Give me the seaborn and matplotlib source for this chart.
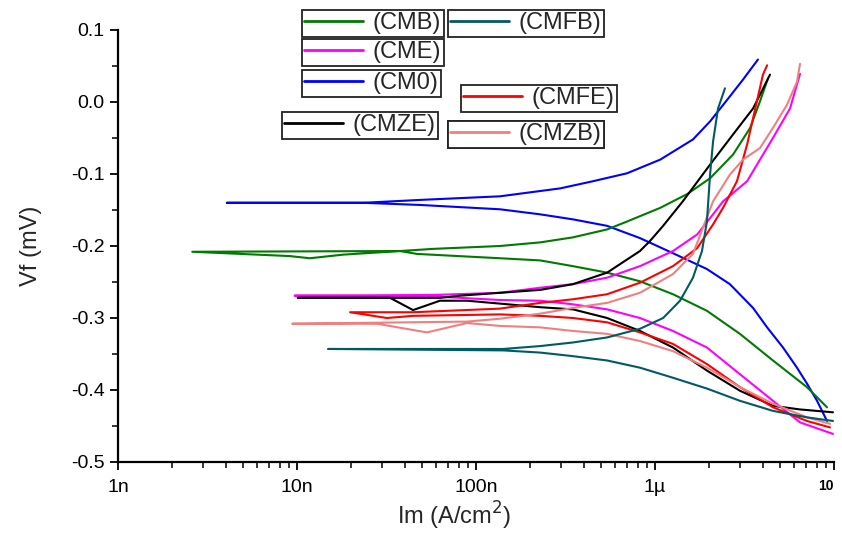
import numpy as np
import pandas as pd
import seaborn as sns
import matplotlib.pyplot as plt
from matplotlib.ticker import FixedLocator, LogLocator, MultipleLocator, NullFormatter

# Tafel curves: current (A/cm2) and potential
# each sample has a cathodic (lower) and an anodic (upper) branch, both from low current up
cm0_cat_i = [4.06e-9, 2.34e-8, 4.87e-8, 1.36e-7, 2.28e-7, 3.48e-7, 5.40e-7, 8.24e-7, 1.26e-6, 1.95e-6,
             2.62e-6, 3.53e-6, 4.23e-6, 5.19e-6, 6.21e-6, 7.06e-6, 8.04e-6, 9.14e-6]
cm0_cat_v = [-0.140, -0.140, -0.143, -0.149, -0.156, -0.163, -0.172, -0.189, -0.210, -0.232,
             -0.253, -0.286, -0.313, -0.341, -0.369, -0.391, -0.415, -0.443]
cm0_an_i = [4.06e-9, 2.34e-8, 4.87e-8, 1.36e-7, 2.95e-7, 4.51e-7, 6.98e-7, 1.07e-6, 1.63e-6, 2.03e-6,
            2.53e-6, 3.10e-6, 3.76e-6]
cm0_an_v = [-0.140, -0.140, -0.136, -0.131, -0.120, -0.110, -0.099, -0.080, -0.052, -0.027,
            0.003, 0.031, 0.059]

cmb_cat_i = [2.6e-9, 9.1e-9, 1.18e-8, 1.81e-8, 3.76e-8, 4.68e-8, 1.36e-7, 2.28e-7, 3.48e-7, 5.40e-7,
             8.24e-7, 1.26e-6, 1.95e-6, 2.98e-6, 4.56e-6, 7.06e-6, 9.14e-6]
cmb_cat_v = [-0.208, -0.214, -0.217, -0.212, -0.207, -0.211, -0.217, -0.220, -0.228, -0.237,
             -0.249, -0.267, -0.290, -0.322, -0.359, -0.396, -0.424]
cmb_an_i = [2.6e-9, 3.76e-8, 5.75e-8, 1.36e-7, 2.28e-7, 3.48e-7, 5.40e-7, 6.98e-7, 1.07e-6, 1.51e-6,
            2.03e-6, 2.73e-6, 3.40e-6, 3.86e-6, 4.28e-6]
cmb_an_v = [-0.208, -0.207, -0.204, -0.200, -0.195, -0.188, -0.177, -0.166, -0.147, -0.128,
            -0.106, -0.073, -0.036, 0.001, 0.033]

cme_cat_i = [9.7e-9, 5.75e-8, 1.36e-7, 2.28e-7, 3.48e-7, 5.40e-7, 8.24e-7, 1.26e-6, 1.95e-6, 2.98e-6,
             4.56e-6, 6.46e-6, 9.87e-6]
cme_cat_v = [-0.269, -0.270, -0.275, -0.276, -0.281, -0.288, -0.300, -0.318, -0.341, -0.378,
             -0.415, -0.445, -0.461]
cme_an_i = [9.7e-9, 5.75e-8, 1.36e-7, 2.28e-7, 3.48e-7, 5.40e-7, 8.24e-7, 1.26e-6, 1.72e-6, 2.11e-6,
            2.40e-6, 3.27e-6, 4.56e-6, 5.68e-6, 6.46e-6]
cme_an_v = [-0.269, -0.268, -0.265, -0.258, -0.253, -0.244, -0.228, -0.207, -0.184, -0.156,
            -0.138, -0.110, -0.050, -0.009, 0.039]

cmze_cat_i = [1.01e-8, 3.31e-8, 4.45e-8, 6.29e-8, 8.91e-8, 1.36e-7, 2.28e-7, 3.48e-7, 5.40e-7, 8.24e-7,
              1.26e-6, 1.95e-6, 2.98e-6, 4.56e-6, 6.46e-6, 9.87e-6]
cmze_cat_v = [-0.272, -0.272, -0.289, -0.276, -0.276, -0.280, -0.285, -0.288, -0.300, -0.318,
              -0.341, -0.373, -0.401, -0.422, -0.427, -0.431]
cmze_an_i = [1.01e-8, 6.29e-8, 8.15e-8, 1.36e-7, 2.28e-7, 3.48e-7, 5.40e-7, 8.24e-7, 9.38e-7, 1.11e-6,
             1.43e-6, 2.03e-6, 2.73e-6, 3.53e-6, 4.39e-6]
cmze_an_v = [-0.272, -0.272, -0.269, -0.265, -0.261, -0.253, -0.237, -0.207, -0.193, -0.172,
             -0.138, -0.087, -0.045, -0.009, 0.038]

cmfe_cat_i = [1.98e-8, 3.18e-8, 4.45e-8, 1.36e-7, 2.28e-7, 3.48e-7, 5.40e-7, 8.24e-7, 1.26e-6, 1.95e-6,
              2.98e-6, 4.56e-6, 7.06e-6, 9.50e-6]
cmfe_cat_v = [-0.292, -0.300, -0.297, -0.295, -0.297, -0.300, -0.306, -0.320, -0.336, -0.364,
              -0.396, -0.424, -0.443, -0.452]
cmfe_an_i = [1.98e-8, 4.45e-8, 1.36e-7, 2.28e-7, 3.48e-7, 5.40e-7, 8.24e-7, 1.26e-6, 1.72e-6, 2.11e-6,
             2.40e-6, 2.87e-6, 3.27e-6, 3.71e-6, 4.01e-6, 4.23e-6]
cmfe_an_v = [-0.292, -0.292, -0.287, -0.279, -0.274, -0.267, -0.251, -0.228, -0.203, -0.170,
             -0.147, -0.110, -0.059, 0.001, 0.038, 0.051]

cmzb_cat_i = [9.4e-9, 2.8e-8, 5.32e-8, 8.91e-8, 1.36e-7, 2.28e-7, 3.48e-7, 5.40e-7, 8.24e-7, 1.26e-6,
              1.95e-6, 2.98e-6, 4.56e-6, 7.06e-6, 9.50e-6]
cmzb_cat_v = [-0.308, -0.308, -0.320, -0.307, -0.311, -0.313, -0.318, -0.322, -0.332, -0.346,
              -0.369, -0.396, -0.419, -0.438, -0.447]
cmzb_an_i = [9.4e-9, 8.91e-8, 1.36e-7, 2.28e-7, 3.48e-7, 5.40e-7, 8.24e-7, 1.26e-6, 1.63e-6, 1.85e-6,
             2.11e-6, 2.62e-6, 3.10e-6, 3.86e-6, 4.56e-6, 5.46e-6, 6.21e-6, 6.46e-6]
cmzb_an_v = [-0.308, -0.305, -0.301, -0.294, -0.286, -0.279, -0.265, -0.239, -0.211, -0.175,
             -0.138, -0.101, -0.080, -0.064, -0.036, -0.004, 0.028, 0.053]

cmfb_cat_i = [1.49e-8, 1.42e-7, 2.28e-7, 3.48e-7, 5.40e-7, 8.24e-7, 1.26e-6, 1.95e-6, 2.98e-6, 4.56e-6,
              7.06e-6, 9.87e-6]
cmfb_cat_v = [-0.343, -0.345, -0.348, -0.353, -0.359, -0.369, -0.383, -0.398, -0.415, -0.429,
              -0.438, -0.443]
cmfb_an_i = [1.49e-8, 1.42e-7, 2.28e-7, 3.48e-7, 5.40e-7, 8.24e-7, 1.11e-6, 1.38e-6, 1.63e-6, 1.83e-6,
             1.95e-6, 2.03e-6, 2.11e-6, 2.25e-6, 2.46e-6]
cmfb_an_v = [-0.343, -0.343, -0.339, -0.334, -0.327, -0.315, -0.300, -0.276, -0.244, -0.207,
             -0.166, -0.101, -0.055, -0.009, 0.019]

curves = {
    "(CM0)": (cm0_cat_i, cm0_cat_v, cm0_an_i, cm0_an_v),
    "(CMB)": (cmb_cat_i, cmb_cat_v, cmb_an_i, cmb_an_v),
    "(CME)": (cme_cat_i, cme_cat_v, cme_an_i, cme_an_v),
    "(CMZE)": (cmze_cat_i, cmze_cat_v, cmze_an_i, cmze_an_v),
    "(CMFE)": (cmfe_cat_i, cmfe_cat_v, cmfe_an_i, cmfe_an_v),
    "(CMZB)": (cmzb_cat_i, cmzb_cat_v, cmzb_an_i, cmzb_an_v),
    "(CMFB)": (cmfb_cat_i, cmfb_cat_v, cmfb_an_i, cmfb_an_v),
}
colors = {"(CM0)": "#0000ff", "(CMB)": "#007a00", "(CME)": "#ff00ff", "(CMZE)": "#000000",
          "(CMFE)": "#ff0000", "(CMZB)": "#f08080", "(CMFB)": "#005a66"}

x_ticks = [1e-9, 1e-8, 1e-7, 1e-6, 1e-5]
x_labels = ["1n", "10n", "100n", "1µ", "10"]

# one path per sample: cathodic branch from high current back to Ecorr, then anodic branch
rows = []
for name, (ci, cv, ai, av) in curves.items():
    xs = list(ci[::-1]) + list(ai)
    ys = list(cv[::-1]) + list(av)
    for k, (x, y) in enumerate(zip(xs, ys)):
        rows.append({"sample": name, "I": x, "V": y, "k": k})
df = pd.DataFrame(rows)

sns.set_theme(style="ticks")
plt.rcParams["font.family"] = ["Liberation Sans", "DejaVu Sans"]
plt.rcParams["axes.unicode_minus"] = False

fig = plt.figure(figsize=(8.42, 5.34), dpi=100)
ax = fig.add_axes([118 / 842, 1 - 462 / 534, (834 - 118) / 842, (462 - 30) / 534])

sns.lineplot(data=df, x="I", y="V", hue="sample", palette=colors, sort=False,
             estimator=None, units="sample", legend=False, linewidth=1.5, ax=ax)

ax.set_xscale("log")
ax.set_xlim(1e-9, 1e-5)
ax.set_ylim(-0.5, 0.1)
ax.xaxis.set_major_locator(FixedLocator(x_ticks))
ax.set_xticklabels(x_labels)
ax.xaxis.set_minor_locator(LogLocator(base=10, subs=np.arange(2, 10)))
ax.xaxis.set_minor_formatter(NullFormatter())
ax.yaxis.set_major_locator(MultipleLocator(0.1))
ax.yaxis.set_minor_locator(MultipleLocator(0.05))
ax.yaxis.set_major_formatter(plt.FuncFormatter(lambda v, p: f"{v:.1f}".replace("-0.0", "0.0")))

ax.tick_params(axis="both", which="major", direction="out", length=6, width=1.3,
               labelsize=14, colors="black")
ax.tick_params(axis="both", which="minor", direction="out", length=4, width=1.1, colors="black")
ax.tick_params(axis="x", which="major", pad=6)

lab = ax.get_xticklabels()[-1]
lab.set_fontweight("bold")
lab.set_fontsize(10)
lab.set_horizontalalignment("right")

sns.despine(ax=ax)
for s in ["left", "bottom"]:
    ax.spines[s].set_linewidth(1.6)
    ax.spines[s].set_color("black")

ax.set_xlabel("Im (A/cm$^2$)", fontsize=17)
ax.xaxis.set_label_coords((454 - 118) / 716, -38 / 432)
ax.set_ylabel("Vf (mV)", fontsize=17)
ax.yaxis.set_label_coords(-76 / 716, 0.5)

# separate little legend boxes, like in the picture (pixel position of top-left corner)
boxes = {"(CMB)": (302, 10), "(CMFB)": (448, 10), "(CME)": (302, 39), "(CM0)": (302, 70),
         "(CMFE)": (461, 85), "(CMZE)": (282, 112), "(CMZB)": (448, 121)}
for name, (px, py) in boxes.items():
    h = plt.Line2D([], [], color=colors[name], linewidth=2)
    leg = ax.legend([h], [name], loc="upper left", bbox_to_anchor=(px / 842, 1 - py / 534),
                    bbox_transform=fig.transFigure, borderaxespad=0, frameon=True, fancybox=False,
                    edgecolor="#222222", framealpha=1, fontsize=17, borderpad=0.1,
                    handlelength=2.5, handletextpad=0.4)
    leg.get_frame().set_linewidth(1.3)
    ax.add_artist(leg)

fig.savefig("out.png", dpi=100)
